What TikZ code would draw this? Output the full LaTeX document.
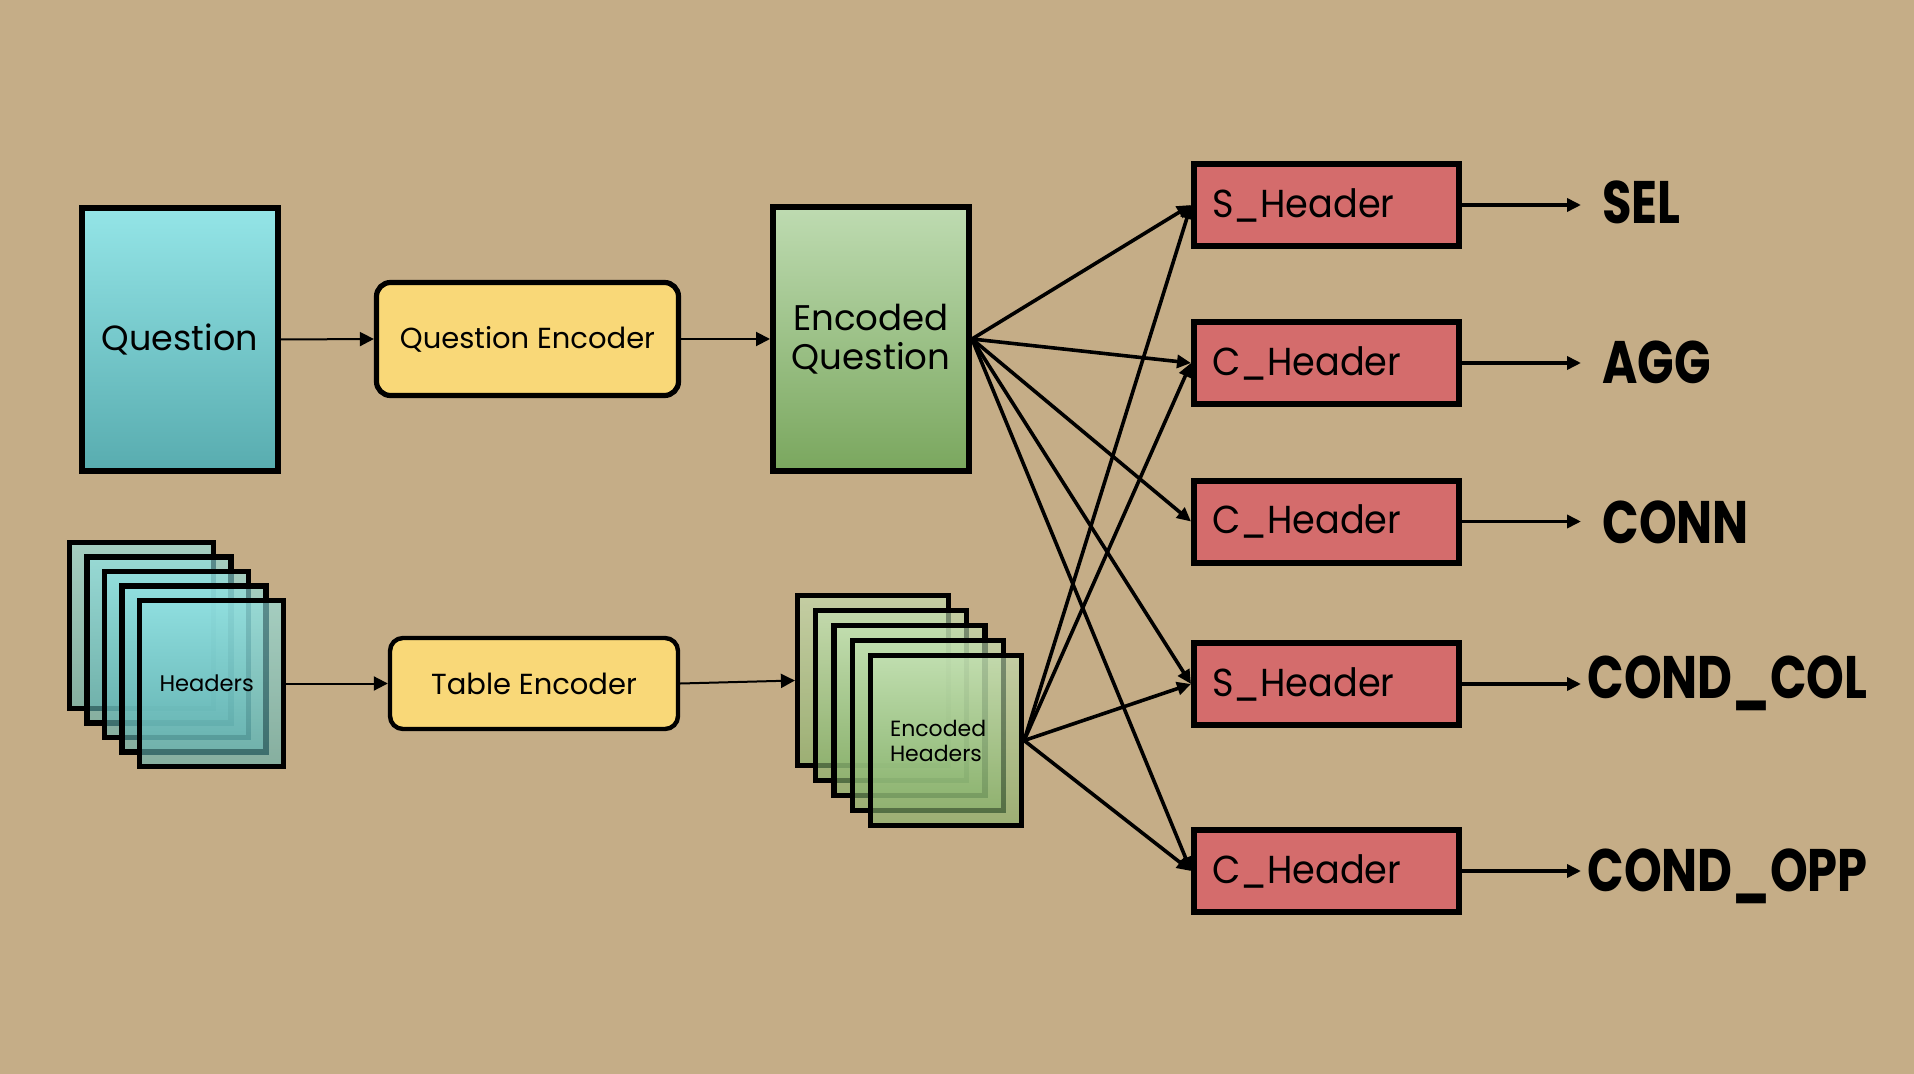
\documentclass[tikz,border=0pt]{standalone}
\usepackage{fontspec}
\setmainfont{Poppins}
\newfontfamily\outfont[FakeStretch=0.8]{Poppins}
\newfontfamily\hdrfont[FakeStretch=0.94]{Poppins}
\usetikzlibrary{arrows.meta}
\definecolor{paper}{RGB}{197,173,135}
\definecolor{qtop}{RGB}{148,229,231}
\definecolor{qbot}{RGB}{88,172,175}
\definecolor{encfill}{RGB}{249,216,120}
\definecolor{gtop}{RGB}{190,219,177}
\definecolor{gbot}{RGB}{122,167,94}
\definecolor{hdrfill}{RGB}{212,108,108}
\definecolor{htop}{RGB}{146,226,227}
\definecolor{hbot}{RGB}{96,176,174}
\definecolor{ehtop}{RGB}{196,226,180}
\definecolor{ehbot}{RGB}{132,176,104}
\tikzset{
  tallbox/.style={draw, line width=2.8pt, minimum width=98.2pt, minimum height=131.7pt, inner sep=0pt, align=center},
  encbox/.style={draw, line width=2.6pt, fill=encfill, rounded corners=7pt, inner sep=0pt, font=\fontsize{14.5}{16}\selectfont},
  sheet/.style={draw, line width=2.6pt, fill opacity=0.62, text opacity=1, inner sep=0pt, align=left},
  hdrbox/.style={draw, line width=3pt, fill=hdrfill, minimum width=132.5pt, minimum height=41pt, inner xsep=9pt, text width=114.5pt, align=left, font=\hdrfont\fontsize{19.5}{22}\selectfont},
  outlab/.style={inner sep=0pt, font=\outfont\bfseries\fontsize{30}{32}\selectfont},
  thinarrow/.style={line width=1pt, -{Triangle[length=7pt,width=7pt]}},
  fanarrow/.style={line width=1.8pt, -{Triangle[length=7pt,width=6.5pt]}},
}
\begin{document}
\begin{tikzpicture}[x=0.5pt,y=-0.5pt]
\useasboundingbox (0,0) rectangle (1914,1074);
\fill[paper] (0,0) rectangle (1914,1074);

% question column
\node[tallbox, top color=qtop, bottom color=qbot, font=\fontsize{17.5}{19.5}\selectfont] (q) at (180,339.5) {Question};
\node[encbox, minimum width=151pt, minimum height=56.5pt] (qe) at (527.5,339) {Question Encoder};
\node[tallbox, top color=gtop, bottom color=gbot, font=\fontsize{17.8}{19.5}\selectfont] (eq) at (871,339) {Encoded\\Question};

% headers stack
\foreach \i in {0,...,3}{
  \node[sheet, top color=htop, bottom color=hbot, minimum width=72pt, minimum height=83pt] (h\i) at ({141.5+17.5*\i},{625.5+14.5*\i}) {};
}
\node[sheet, top color=htop, bottom color=hbot, minimum width=72pt, minimum height=83pt, text width=52pt, font=\fontsize{11.3}{12.5}\selectfont] (h4) at (211.5,683.5) {Headers};

\node[encbox, line width=2.2pt, rounded corners=6.5pt, minimum width=144pt, minimum height=45.5pt] (te) at (534,683.5) {Table Encoder};

% encoded headers stack
\foreach \i in {0,...,3}{
  \node[sheet, top color=ehtop, bottom color=ehbot, minimum width=75.5pt, minimum height=85pt] (e\i) at ({873+18.25*\i},{680.5+15*\i}) {};
}
\node[sheet, top color=ehtop, bottom color=ehbot, minimum width=75.5pt, minimum height=85pt, text width=56pt, font=\fontsize{11}{12.5}\selectfont] (e4) at (946,740.5) {Encoded\\Headers};

% red header boxes
\node[hdrbox] (r1) at (1326.5,205) {S\_Header};
\node[hdrbox] (r2) at (1326.5,363) {C\_Header};
\node[hdrbox] (r3) at (1326.5,521.5) {C\_Header};
\node[hdrbox] (r4) at (1326.5,684) {S\_Header};
\node[hdrbox] (r5) at (1326.5,871) {C\_Header};

% outputs
\node[outlab, anchor=base west] (o1) at (1602,224) {SEL};
\node[outlab, anchor=base west] (o2) at (1602,384) {AGG};
\node[outlab, anchor=base west] (o3) at (1602,543) {CONN};
\node[outlab, anchor=base west] (o4) at (1587,698) {COND\_COL};
\node[outlab, anchor=base west] (o5) at (1587,891) {COND\_OPP};
\coordinate (t1) at (1581,205);
\coordinate (t2) at (1581,363);
\coordinate (t3) at (1581,521.5);
\coordinate (t4) at (1581,684);
\coordinate (t5) at (1581,871);

% connectors
\draw[thinarrow] (q.east) -- (qe.west);
\draw[thinarrow] (qe.east) -- (eq.west);
\draw[thinarrow] (h4.east) -- (te.west);
\draw[thinarrow] (te.east) -- (e0.west);

\foreach \r in {r1,r2,r3,r4,r5}{
  \draw[fanarrow] (eq.east) -- (\r.west);
}
\foreach \r in {r1,r2,r4,r5}{
  \draw[fanarrow] (e4.east) -- (\r.west);
}
\foreach \k in {1,...,5}{
  \draw[fanarrow] (r\k.east) -- (t\k);
}
\end{tikzpicture}
\end{document}
